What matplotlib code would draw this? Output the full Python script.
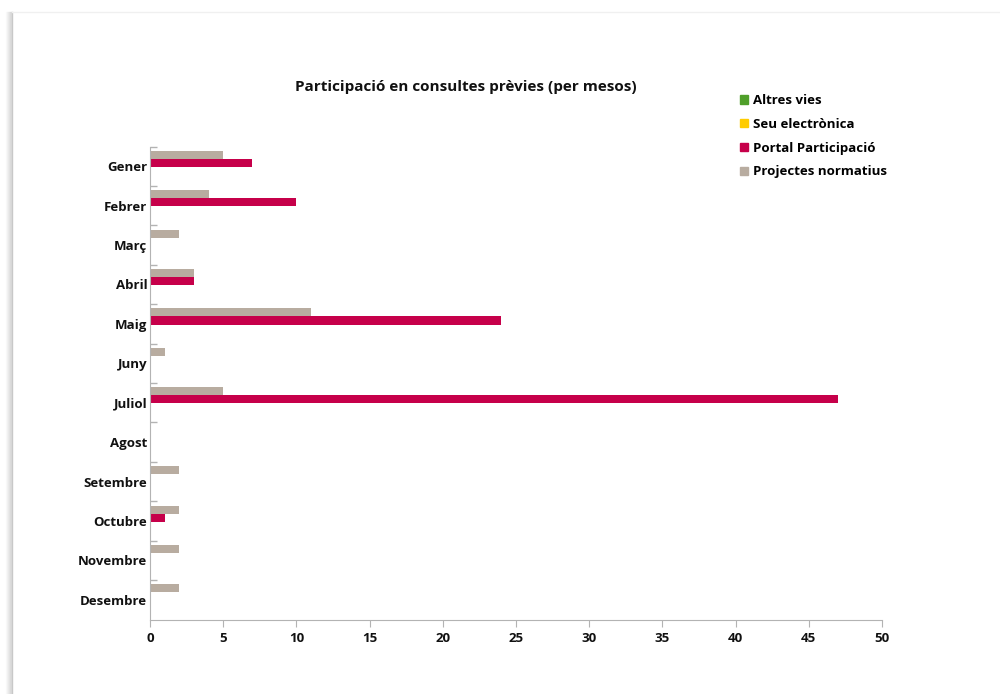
import numpy as np
import matplotlib.pyplot as plt
from matplotlib.patches import Patch
from matplotlib.lines import Line2D

plt.rcParams['font.family'] = ['Open Sans', 'DejaVu Sans']

months = ['Gener', 'Febrer', 'Març', 'Abril', 'Maig', 'Juny', 'Juliol',
          'Agost', 'Setembre', 'Octubre', 'Novembre', 'Desembre']
projectes = [5, 4, 2, 3, 11, 1, 5, 0, 2, 2, 2, 2]
portal = [7, 10, 0, 3, 24, 0, 47, 0, 0, 1, 0, 0]
seu = [0] * 12
altres = [0] * 12

series = [('Projectes normatius', projectes, '#b8aca0'),
          ('Portal Participació', portal, '#c6004a'),
          ('Seu electrònica', seu, '#ffcc00'),
          ('Altres vies', altres, '#4f9f2a')]

W, H = 1000, 694
fig = plt.figure(figsize=(W / 100, H / 100), dpi=100)
ax = fig.add_axes([150 / W, 1 - 619.5 / H, (882 - 150) / W, (619.5 - 146.5) / H])

y = np.arange(len(months))
bh = 0.204
for k, (name, vals, col) in enumerate(series):
    ax.barh(y - 0.29 + bh * k, vals, height=bh, color=col, linewidth=0)

ax.set_xlim(0, 50)
ax.set_ylim(len(months) - 0.5, -0.5)
ax.set_xticks(range(0, 51, 5))
ax.set_yticks(y)
ax.set_yticklabels(months)
ax.set_yticks(np.arange(len(months)) - 0.5, minor=True)
ax.tick_params(axis='y', which='major', length=0, pad=2, labelsize=9.5)
ax.tick_params(axis='y', which='minor', direction='in', length=5, color='#b3b3b3', width=1)
ax.tick_params(axis='x', direction='out', length=5, color='#b3b3b3', labelsize=9.5, pad=4)
for lab in ax.get_xticklabels() + ax.get_yticklabels():
    lab.set_fontweight('bold')
    lab.set_color('#111111')
for s in ['top', 'right']:
    ax.spines[s].set_visible(False)
for s in ['left', 'bottom']:
    ax.spines[s].set_color('#b3b3b3')

fig.text(466 / W, 1 - 87 / H, 'Participació en consultes prèvies (per mesos)',
         ha='center', va='center', fontsize=11, fontweight='bold', color='#111111')

handles = [Patch(color=c, label=n) for n, v, c in reversed(series)]
fig.legend(handles=handles, loc='upper left', bbox_to_anchor=(740 / W, 1 - 94 / H),
           frameon=False, handlelength=0.6, handleheight=0.6, handletextpad=0.4,
           labelspacing=0.82, borderaxespad=0, borderpad=0,
           prop={'weight': 'bold', 'size': 9.5})

# page border with shadow
for i, a in enumerate([0.02, 0.04, 0.06, 0.08, 0.1, 0.12]):
    fig.add_artist(Line2D([(6 + i) / W] * 2, [0, 1 - 12 / H], color='k', alpha=a, lw=1))
fig.add_artist(Line2D([12 / W] * 2, [0, 1 - 12 / H], color='#c8c8c8', lw=1))
fig.add_artist(Line2D([12 / W, 1], [1 - 12 / H] * 2, color='#f0f0f0', lw=1))

fig.savefig('out.png', dpi=100)
